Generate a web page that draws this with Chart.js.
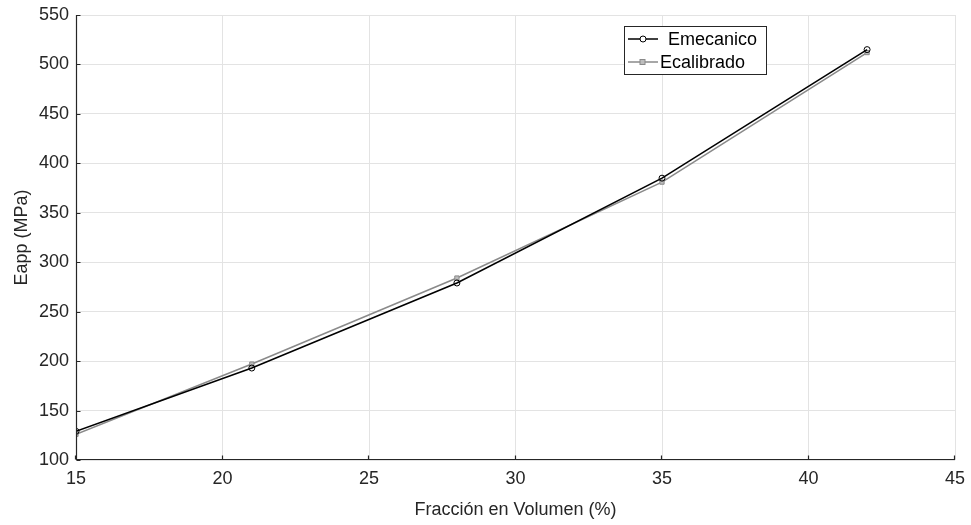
<!DOCTYPE html>
<html>
<head>
<meta charset="utf-8">
<script src="https://cdn.jsdelivr.net/npm/chart.js@4/dist/chart.umd.min.js"></script>
<style>
  html, body { margin: 0; padding: 0; background: #fff; }
  #wrap { width: 971px; height: 525px; position: relative; }
</style>
</head>
<body>
<div id="wrap"><canvas id="c" width="971" height="525"></canvas></div>
<script>
const fraccion = [15, 21, 28, 35, 42];
const eMecanico = [129, 193, 279, 385, 515];
const eCalibrado = [126, 197, 284, 381, 512];
const xTicks = [15, 20, 25, 30, 35, 40, 45];
const yTicks = [100, 150, 200, 250, 300, 350, 400, 450, 500, 550];

const FONT = "'Liberation Sans', Arial, sans-serif";
const AXIS = "#262626";

// left/bottom axis lines, short inward ticks and the legend box
const framePlugin = {
  id: "frame",
  afterDraw(chart) {
    const { ctx, chartArea: a, scales } = chart;
    const left = Math.round(a.left) + 0.5;
    const bottom = Math.round(a.bottom) - 0.5;
    ctx.save();
    ctx.strokeStyle = AXIS;
    ctx.lineWidth = 1.2;
    ctx.beginPath();
    ctx.moveTo(left, a.top);
    ctx.lineTo(left, bottom);
    ctx.lineTo(a.right, bottom);
    xTicks.forEach(v => {
      const x = Math.round(scales.x.getPixelForValue(v)) - 0.5;
      ctx.moveTo(x, bottom); ctx.lineTo(x, bottom - 4);
    });
    yTicks.forEach(v => {
      const y = Math.round(scales.y.getPixelForValue(v)) + 0.5;
      ctx.moveTo(left, y); ctx.lineTo(left + 4, y);
    });
    ctx.stroke();

    // legend
    const lx = 624, ly = 26, lw = 142, lh = 48;
    ctx.fillStyle = "#fff";
    ctx.fillRect(lx, ly, lw, lh);
    ctx.lineWidth = 1;
    ctx.strokeStyle = "#262626";
    ctx.strokeRect(lx + 0.5, ly + 0.5, lw, lh);
    ctx.font = "18px " + FONT;
    ctx.textBaseline = "middle";
    chart.data.datasets.forEach((ds, i) => {
      const y = ly + 13 + i * 23;
      ctx.strokeStyle = ds.borderColor;
      ctx.lineWidth = 1.5;
      ctx.beginPath();
      ctx.moveTo(lx + 4, y); ctx.lineTo(lx + 34, y);
      ctx.stroke();
      ctx.lineWidth = 1;
      if (ds.pointStyle === "rect") {
        ctx.fillStyle = "#bdbdbd";
        ctx.fillRect(lx + 16, y - 2.5, 5, 5);
        ctx.strokeRect(lx + 16, y - 2.5, 5, 5);
      } else {
        ctx.fillStyle = "#fff";
        ctx.beginPath();
        ctx.arc(lx + 19, y, 3, 0, Math.PI * 2);
        ctx.fill(); ctx.stroke();
      }
      ctx.fillStyle = "#000";
      ctx.fillText(ds.label, lx + (i === 0 ? 44 : 36), y + 1);
    });
    ctx.restore();
  }
};

new Chart(document.getElementById("c"), {
  type: "scatter",
  data: {
    datasets: [
      {
        label: "Emecanico",
        data: fraccion.map((x, i) => ({ x, y: eMecanico[i] })),
        showLine: true,
        borderColor: "#000000",
        backgroundColor: "rgba(255,255,255,0)",
        borderWidth: 1.6,
        pointStyle: "circle",
        pointRadius: 3,
        pointBorderWidth: 1,
        order: 1,
      },
      {
        label: "Ecalibrado",
        data: fraccion.map((x, i) => ({ x, y: eCalibrado[i] })),
        showLine: true,
        borderColor: "#8a8a8a",
        backgroundColor: "#bdbdbd",
        borderWidth: 1.6,
        pointStyle: "rect",
        pointRadius: 3,
        pointBorderWidth: 1,
        order: 2,
      },
    ],
  },
  options: {
    responsive: false,
    animation: false,
    layout: { padding: { top: 15, right: 16, left: 0, bottom: 0 } },
    plugins: { legend: { display: false }, tooltip: { enabled: false } },
    scales: {
      x: {
        type: "linear",
        min: 15,
        max: 45,
        afterBuildTicks: s => { s.ticks = xTicks.map(v => ({ value: v })); },
        afterFit: s => { s.height = 65; s.paddingLeft = 0; s.paddingRight = 0; },
        grid: { color: "#e3e3e3", drawTicks: false },
        border: { display: false },
        ticks: { color: AXIS, font: { family: FONT, size: 18 }, padding: 8 },
        title: { display: true, text: "Fracción en Volumen (%)", color: AXIS, font: { family: FONT, size: 18 }, padding: { top: 6 } },
      },
      y: {
        type: "linear",
        min: 100,
        max: 550,
        afterBuildTicks: s => { s.ticks = yTicks.map(v => ({ value: v })); },
        afterFit: s => { s.width = 76; s.paddingTop = 0; s.paddingBottom = 0; },
        grid: { color: "#e3e3e3", drawTicks: false },
        border: { display: false },
        ticks: { color: AXIS, font: { family: FONT, size: 18 }, padding: 7 },
        title: { display: true, text: "Eapp (MPa)", color: AXIS, font: { family: FONT, size: 18 }, padding: { top: 11 } },
      },
    },
  },
  plugins: [framePlugin],
});
</script>
</body>
</html>
